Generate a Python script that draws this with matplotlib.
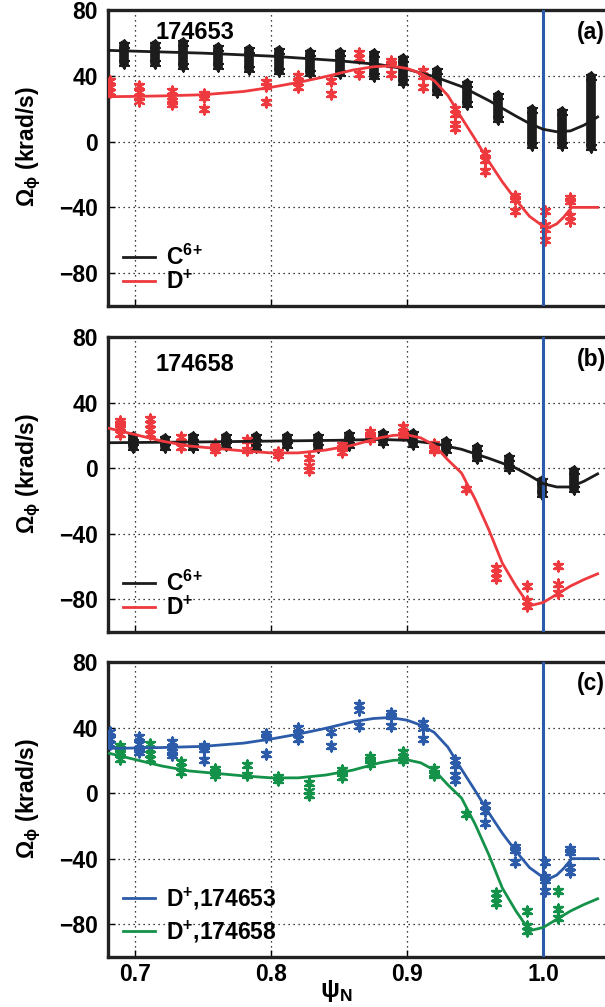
import matplotlib
matplotlib.use('Agg')
from matplotlib import pyplot as plt
from matplotlib import font_manager

# pick a narrow bold face if present
names = {f.name for f in font_manager.fontManager.ttflist}
fam = 'Liberation Sans Narrow' if 'Liberation Sans Narrow' in names else 'Liberation Sans'
plt.rcParams['font.family'] = [fam, 'DejaVu Sans']
plt.rcParams['font.weight'] = 'bold'
plt.rcParams['mathtext.fontset'] = 'custom'
plt.rcParams['mathtext.rm'] = fam
plt.rcParams['mathtext.it'] = fam + ':italic'
plt.rcParams['mathtext.bf'] = fam + ':bold'

# ---- data ----
# C6+ shot 174653: cluster positions and vertical extent
c653_x = [0.692, 0.715, 0.735, 0.761, 0.784, 0.806, 0.829, 0.851, 0.876, 0.897,
          0.922, 0.944, 0.967, 0.992, 1.014, 1.035]
c653_lo = [48, 48, 46, 46, 44, 43, 42, 42, 40, 36, 30, 23, 14, -2, -2, -3]
c653_hi = [59, 59, 60, 57, 56, 55, 54, 54, 53, 50, 43, 35, 28, 19, 18, 39]

# C6+ shot 174658
c658_x = [0.6987, 0.7222, 0.7426, 0.767, 0.7888, 0.812, 0.8347, 0.8574, 0.8821, 0.9042,
          0.9283, 0.9515, 0.9751, 0.9992, 1.0224]
c658_lo = [13, 13, 13, 14, 13, 14, 13, 14, 16, 15, 11, 6, 0, -16, -13]
c658_hi = [19, 18, 19, 19, 19, 19, 19, 20, 21, 21, 16, 12, 6, -8, -2]

# D+ shot 174653 points
d653_x = [0.682, 0.682, 0.682,
          0.703, 0.703, 0.703, 0.703,
          0.727, 0.727, 0.727, 0.727,
          0.751, 0.751, 0.751,
          0.7965, 0.7965, 0.7965,
          0.820, 0.820, 0.820,
          0.844, 0.844,
          0.865, 0.865, 0.865,
          0.888, 0.888, 0.888,
          0.912, 0.912, 0.912,
          0.935, 0.935, 0.935, 0.935,
          0.957, 0.957, 0.957,
          0.979, 0.979, 0.979,
          1.001, 1.001, 1.001, 1.001,
          1.020, 1.020, 1.020, 1.020]
d653_y = [37, 33, 30,
          34, 30, 27, 25,
          31, 28, 25, 23,
          29, 27, 20,
          36, 34, 24,
          40, 36, 33,
          37, 29,
          54, 51, 41,
          49, 47, 41,
          43, 40, 33,
          20, 17, 11, 8,
          -7, -11, -18,
          -33, -35, -42,
          -42, -51, -53, -60,
          -34, -36, -45, -48]

# D+ shot 174658 points
d658_x = [0.689, 0.689, 0.689, 0.689,
          0.711, 0.711, 0.711, 0.711,
          0.734, 0.734, 0.734,
          0.759, 0.759, 0.759,
          0.782, 0.782,
          0.805, 0.805,
          0.828, 0.828, 0.828,
          0.852, 0.852, 0.852,
          0.873, 0.873, 0.873,
          0.897, 0.897, 0.897,
          0.920, 0.920, 0.920,
          0.943,
          0.965, 0.965, 0.965,
          0.988, 0.988, 0.988,
          1.011, 1.011, 1.011]
d658_y = [29, 27, 25, 21,
          30, 27, 24, 21,
          19, 16, 13,
          15, 13, 11,
          17, 11,
          10, 8,
          6, 1, -1,
          14, 12, 10,
          22, 20, 18,
          25, 22, 20,
          15, 12, 11,
          -13,
          -61, -64, -67,
          -72, -81, -84,
          -60, -71, -76]

# fitted profiles
fc653_x = [0.68, 0.70, 0.75, 0.80, 0.85, 0.88, 0.90, 0.92, 0.94, 0.96, 0.98, 0.99,
           1.00, 1.01, 1.02, 1.03, 1.04]
fc653_y = [55.5, 55, 53.8, 52, 49.2, 46.8, 44, 39.5, 33.5, 25, 15.5, 11,
           7.5, 6, 6.5, 10, 15]

fc658_x = [0.68, 0.75, 0.80, 0.85, 0.88, 0.90, 0.92, 0.94, 0.96, 0.98, 0.99, 1.00,
           1.01, 1.02, 1.03, 1.04]
fc658_y = [15.5, 16, 16.5, 17, 17.5, 17, 15, 11.5, 6, 0, -4.5, -9.5,
           -11.5, -11.5, -8, -3.5]

fd653_x = [0.68, 0.70, 0.72, 0.75, 0.78, 0.80, 0.82, 0.84, 0.86, 0.875, 0.885, 0.89,
           0.90, 0.91, 0.92, 0.93, 0.94, 0.95, 0.96, 0.97, 0.98, 0.99, 1.00, 1.005,
           1.01, 1.015, 1.021, 1.04]
fd653_y = [27.3, 27.5, 27.8, 28.5, 30.5, 33, 36, 39.5, 43.5, 45.5, 46, 45.8,
           44.5, 41.5, 37, 28, 14.5, 1.5, -12, -24.5, -35.5, -45.5, -51.5, -52,
           -50, -46, -40, -40]

fd658_x = [0.68, 0.70, 0.72, 0.74, 0.76, 0.78, 0.80, 0.82, 0.84, 0.86, 0.88, 0.89,
           0.90, 0.91, 0.92, 0.93, 0.94, 0.95, 0.96, 0.97, 0.98, 0.99, 1.00, 1.01,
           1.02, 1.03, 1.04]
fd658_y = [24.5, 20.5, 16.5, 13.5, 12, 10.5, 9.3, 9.3, 11, 14, 18.5, 20,
           20.3, 18.5, 14, 5, -3, -19, -37.5, -58, -72, -84, -82, -77,
           -72, -68, -64.5]

black = '#1c1c1c'
red = '#ee3a3f'
blue = '#2c5ba9'
green = '#14924a'
star = (6, 2, 0)


def clusters(ax, x, lo, hi):
    ax.vlines(x, lo, hi, colors=black, lw=7, capstyle='round', zorder=3)
    ax.scatter(x, lo, marker=star, s=55, color=black, lw=1.5, zorder=3)
    ax.scatter(x, hi, marker=star, s=55, color=black, lw=1.5, zorder=3)


def points(ax, x, y, c):
    ax.errorbar(x, y, yerr=1.8, fmt='none', ecolor=c, elinewidth=1, capsize=3, zorder=3)
    ax.scatter(x, y, marker=star, s=55, color=c, lw=1.5, zorder=3)


fig = plt.figure(figsize=(6.05, 10.07), dpi=100)
left, width = 0.178, 0.8323
axa = fig.add_axes([left, 0.6961, width, 0.2939])
axb = fig.add_axes([left, 0.3724, width, 0.2929])
axc = fig.add_axes([left, 0.0497, width, 0.2929])

for ax in (axa, axb, axc):
    ax.set_xlim(0.68, 1.05)
    ax.set_ylim(-100, 80)
    ax.set_xticks([0.7, 0.8, 0.9, 1.0])
    ax.set_yticks([-80, -40, 0, 40, 80])
    ax.grid(True, color='black', lw=0.9, linestyle=(0, (1, 3)))
    ax.axvline(1.0, color=blue, lw=2.2, zorder=4)
    for s in ax.spines.values():
        s.set_linewidth(2.4)
        s.set_color('#222222')
    ax.tick_params(direction='in', length=5, width=1, labelsize=16.5, pad=7)
    ax.tick_params(axis='x', pad=4)
    ax.set_ylabel(r'$\mathrm{\Omega_{\phi}}$ (krad/s)', fontsize=16.5, fontweight='bold')
    ax.yaxis.set_label_coords(-0.128, 0.538)

axa.tick_params(axis='x', labelbottom=False)
axb.tick_params(axis='x', labelbottom=False)
axc.set_xticklabels(['0.7', '0.8', '0.9', '1.0'])

c6 = r'C$^{\mathbf{6}}$$^{\mathbf{+}}$'
dp = r'D$^{\mathbf{+}}$'

# panel (a)
clusters(axa, c653_x, c653_lo, c653_hi)
points(axa, d653_x, d653_y, red)
axa.plot(fc653_x, fc653_y, color=black, lw=2, label=c6, zorder=5)
axa.plot(fd653_x, fd653_y, color=red, lw=2, label=dp, zorder=5)
axa.text(0.744, 66.6, '174653', fontsize=17, ha='center', va='center')
axa.text(1.0248, 66.6, '(a)', fontsize=16.5, ha='left', va='center')

# panel (b)
clusters(axb, c658_x, c658_lo, c658_hi)
points(axb, d658_x, d658_y, red)
axb.plot(fc658_x, fc658_y, color=black, lw=2, label=c6, zorder=5)
axb.plot(fd658_x, fd658_y, color=red, lw=2, label=dp, zorder=5)
axb.text(0.744, 63, '174658', fontsize=17, ha='center', va='center')
axb.text(1.0248, 66.6, '(b)', fontsize=16.5, ha='left', va='center')

# panel (c)
points(axc, d653_x, d653_y, blue)
points(axc, d658_x, d658_y, green)
axc.plot(fd653_x, fd653_y, color=blue, lw=2, label=dp + ',174653', zorder=5)
axc.plot(fd658_x, fd658_y, color=green, lw=2, label=dp + ',174658', zorder=5)
axc.text(1.0248, 66.6, '(c)', fontsize=16.5, ha='left', va='center')

for ax, sp in ((axa, 0.05), (axb, 0.05), (axc, 0.3)):
    ax.legend(loc='lower left', bbox_to_anchor=(0.03, 0.04), frameon=False,
              fontsize=16.5, handlelength=1.4, handletextpad=0.5,
              labelspacing=sp, borderpad=0, borderaxespad=0)

fig.text(336 / 605, 1 - 991 / 1007, r'$\mathrm{\psi}_{\mathbf{N}}$', fontsize=18,
         ha='center', va='center')

plt.savefig('out.png', dpi=100)
plt.close()
